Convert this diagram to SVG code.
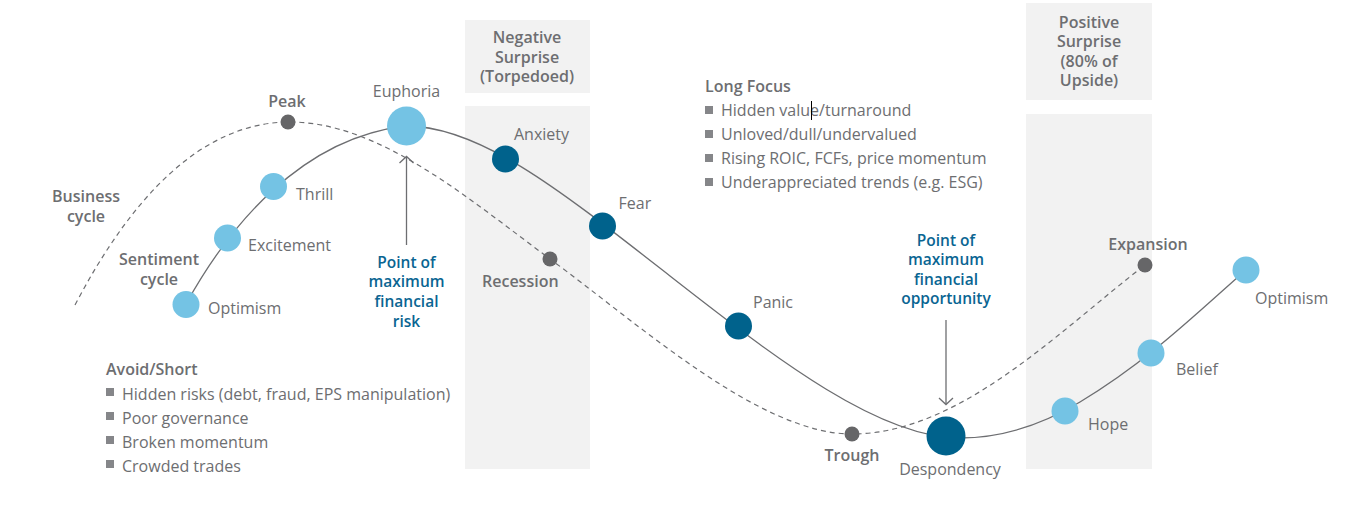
<svg xmlns="http://www.w3.org/2000/svg" width="1347" height="511" viewBox="0 0 1347 511">
<style>
text{font-family:"Open Sans","Liberation Sans",sans-serif;font-size:16px;fill:#6d6e71}
.sb{font-weight:600}
.blue{fill:#0a6592;font-weight:600;font-size:15.5px}
.mid{text-anchor:middle}
.box{fill:#f2f2f2}
.light{fill:#74c3e4}
.dark{fill:#00628c}
.dot{fill:#666668}
.bul{fill:#858689}
.solid{fill:none;stroke:#6d6e71;stroke-width:1.3}
.dash{fill:none;stroke:#6d6e71;stroke-width:1.2;stroke-dasharray:5 4}
.arr{fill:none;stroke:#6d6e71;stroke-width:1.3}
</style>
<rect width="1347" height="511" fill="#ffffff"/>
<g id="negative-surprise">
<rect class="box" x="465" y="20" width="125" height="73"/>
<rect class="box" x="465" y="106" width="125" height="363"/>
<text class="sb mid" x="527" y="42.5">Negative</text>
<text class="sb mid" x="527" y="62.5">Surprise</text>
<text class="sb mid" x="527" y="82">(Torpedoed)</text>
</g>
<g id="positive-surprise">
<rect class="box" x="1026" y="3" width="126" height="97"/>
<rect class="box" x="1026" y="114" width="126" height="355"/>
<text class="sb mid" x="1089" y="27.5">Positive</text>
<text class="sb mid" x="1089" y="47">Surprise</text>
<text class="sb mid" x="1089" y="66.5">(80% of</text>
<text class="sb mid" x="1089" y="86">Upside)</text>
</g>
<g id="connectors">
<path id="business-cycle-curve" class="dash" d="M75,305 C130,200 200,122 290,122 C380,122 470,200 550,259 C640,325 760,434 852,434 C960,434 1060,330 1145,265"/>
<path id="sentiment-cycle-curve" class="solid" d="M186,304 C228,228 300,138 406,126 C480,126 560,190 670,276 C780,362 880,438 960,438 C1010,438 1050,420 1080,402 C1150,360 1200,310 1246,270"/>
<g id="arrow-risk"><line class="arr" x1="406.5" y1="245" x2="406.5" y2="157"/><polyline class="arr" points="399.5,163 406.5,156.5 413.5,163"/></g>
<g id="arrow-opportunity"><line class="arr" x1="946" y1="320" x2="946" y2="404"/><polyline class="arr" points="939,398 946,404.5 953,398"/></g>
</g>
<g id="business-cycle-label"><text class="sb mid" x="86" y="202">Business</text><text class="sb mid" x="86" y="222">cycle</text></g>
<g id="sentiment-cycle-label"><text class="sb mid" x="159" y="265">Sentiment</text><text class="sb mid" x="159" y="285">cycle</text></g>
<g id="peak"><circle class="dot" cx="288" cy="122" r="7.5"/><text class="sb mid" x="287" y="106.5">Peak</text></g>
<g id="recession"><circle class="dot" cx="550" cy="259" r="7.5"/><text class="sb" x="482" y="287">Recession</text></g>
<g id="trough"><circle class="dot" cx="852" cy="434" r="7.5"/><text class="sb mid" x="852" y="461">Trough</text></g>
<g id="expansion"><circle class="dot" cx="1145" cy="265" r="7.5"/><text class="sb mid" x="1148" y="249.5">Expansion</text></g>
<g id="optimism-1"><circle class="light" cx="186" cy="304.5" r="13.5"/><text x="208" y="313.5">Optimism</text></g>
<g id="excitement"><circle class="light" cx="227.5" cy="238" r="13.5"/><text x="248" y="250.5">Excitement</text></g>
<g id="thrill"><circle class="light" cx="273.5" cy="186.5" r="13.5"/><text x="296" y="200">Thrill</text></g>
<g id="euphoria"><circle class="light" cx="406.5" cy="126" r="19.5"/><text class="mid" x="406.5" y="96.5">Euphoria</text></g>
<g id="anxiety"><circle class="dark" cx="505.5" cy="159" r="13.5"/><text x="514" y="140">Anxiety</text></g>
<g id="fear"><circle class="dark" cx="602.5" cy="226" r="13.5"/><text x="618.5" y="208.5">Fear</text></g>
<g id="panic"><circle class="dark" cx="738.5" cy="326" r="13.5"/><text x="753" y="307.5">Panic</text></g>
<g id="despondency"><circle class="dark" cx="946" cy="436" r="19.5"/><text class="mid" x="950" y="474.5">Despondency</text></g>
<g id="hope"><circle class="light" cx="1065" cy="411" r="13.5"/><text x="1088" y="429.5">Hope</text></g>
<g id="belief"><circle class="light" cx="1151" cy="353" r="13.5"/><text x="1176" y="374.5">Belief</text></g>
<g id="optimism-2"><circle class="light" cx="1246" cy="270" r="13.5"/><text x="1255" y="303.5">Optimism</text></g>
<g id="point-max-risk">
<text class="blue mid" x="406.5" y="267.5">Point of</text>
<text class="blue mid" x="406.5" y="287">maximum</text>
<text class="blue mid" x="406.5" y="306.5">financial</text>
<text class="blue mid" x="406.5" y="326.5">risk</text>
</g>
<g id="point-max-opportunity">
<text class="blue mid" x="946" y="245.5">Point of</text>
<text class="blue mid" x="946" y="265">maximum</text>
<text class="blue mid" x="946" y="284.5">financial</text>
<text class="blue mid" x="946" y="304">opportunity</text>
</g>
<g id="long-focus">
<text class="sb" x="705" y="92">Long Focus</text>
<rect class="bul" x="705" y="106" width="8" height="8"/><text x="721" y="116">Hidden value/turnaround</text>
<rect class="bul" x="705" y="130" width="8" height="8"/><text x="721" y="140">Unloved/dull/undervalued</text>
<rect class="bul" x="705" y="154" width="8" height="8"/><text x="721" y="164">Rising ROIC, FCFs, price momentum</text>
<rect class="bul" x="705" y="178" width="8" height="8"/><text x="721" y="188">Underappreciated trends (e.g. ESG)</text>
<line x1="811.5" y1="101" x2="811.5" y2="120" stroke="#000" stroke-width="1"/>
</g>
<g id="avoid-short">
<text class="sb" x="106" y="375">Avoid/Short</text>
<rect class="bul" x="106" y="388" width="8" height="8"/><text x="122" y="399.5">Hidden risks (debt, fraud, EPS manipulation)</text>
<rect class="bul" x="106" y="412" width="8" height="8"/><text x="122" y="423.5">Poor governance</text>
<rect class="bul" x="106" y="436" width="8" height="8"/><text x="122" y="447.5">Broken momentum</text>
<rect class="bul" x="106" y="460" width="8" height="8"/><text x="122" y="471.5">Crowded trades</text>
</g>
</svg>
